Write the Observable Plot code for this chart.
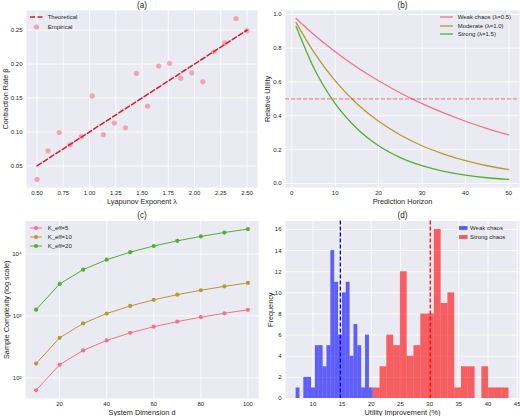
<!DOCTYPE html>
<html><head><meta charset="utf-8">
<script src="https://cdn.jsdelivr.net/npm/d3@7"></script>
<script src="https://cdn.jsdelivr.net/npm/@observablehq/plot@0.6"></script>
<style>
body{margin:0;background:#fff;}
#fig{position:relative;width:520px;height:416px;font-family:"Liberation Sans",Arial,sans-serif;color:#262626;overflow:hidden;}
.panel{position:absolute;}
.lg-row{position:absolute;display:flex;align-items:center;font-size:6px;white-space:nowrap;color:#262626;}
.lg-row svg{display:block;}
</style></head><body><div id="fig"></div>
<script>
// ---------- (a) data ----------
const lambdaVals = [0.50, 0.605, 0.711, 0.816, 0.921, 1.026, 1.132, 1.237, 1.342, 1.447, 1.553, 1.658, 1.763, 1.868, 1.974, 2.079, 2.184, 2.289, 2.395, 2.50];
const betaVals   = [0.030, 0.072, 0.099, 0.081, 0.093, 0.153, 0.096, 0.113, 0.106, 0.186, 0.138, 0.197, 0.201, 0.179, 0.187, 0.174, 0.218, 0.231, 0.267, 0.249];
const theoLambda = [0.5, 2.5];
const theoBeta   = [0.05, 0.25];
// ---------- (b) data ----------
const horizon    = [1, 5, 10, 15, 20, 25, 30, 35, 40, 45, 50];
const weakUtil   = [0.975, 0.882, 0.779, 0.687, 0.607, 0.535, 0.472, 0.417, 0.368, 0.325, 0.287];
const modUtil    = [0.951, 0.779, 0.607, 0.472, 0.368, 0.287, 0.223, 0.174, 0.135, 0.105, 0.082];
const strongUtil = [0.928, 0.687, 0.472, 0.325, 0.223, 0.153, 0.105, 0.072, 0.050, 0.034, 0.024];
const utilThreshold = 0.5;
// ---------- (c) data ----------
const dims   = [10, 20, 30, 40, 50, 60, 70, 80, 90, 100];
const keff5  = [63, 163, 277, 401, 532, 668, 808, 953, 1101, 1252];
const keff10 = [170, 443, 754, 1090, 1445, 1815, 2198, 2590, 2992, 3403];
const keff20 = [1257, 3271, 5571, 8057, 10679, 13413, 16237, 19140, 22112, 25143];
// ---------- (d) data ----------
const weakBinStart = 7.12, weakBinWidth = 0.661;
const weakCounts   = [1, 0, 2, 2, 1, 5, 5, 3, 5, 14, 11, 6, 10, 11, 4, 7, 5, 1, 6, 1];
const strongBinStart = 20.34, strongBinWidth = 1.163;
const strongCounts   = [1, 3, 6, 5, 12, 4, 5, 8, 8, 16, 9, 10, 1, 3, 3, 0, 3, 1, 1, 1];
const weakMean = 14.7, strongMean = 30.1;

const C_PINK = "#f77189", C_GOLD = "#bb9832", C_GREEN = "#50b131";
const BG = "#EAEAF2", TXT = "#262626";
const FONT = '"Liberation Sans", Arial, sans-serif';
const fig = document.getElementById("fig");

function place(svg, left, top) {
  const d = document.createElement("div");
  d.className = "panel"; d.style.left = left + "px"; d.style.top = top + "px";
  d.appendChild(svg); fig.appendChild(d);
}
function baseStyle() {
  return {fontFamily: FONT, fontSize: "6px", color: TXT, background: "transparent", overflow: "visible"};
}
function deco(title, xlabel, ylabel, o) {
  return [
    Plot.text([title], {frameAnchor: "top", dy: o.tdy, lineAnchor: "middle", fontSize: 8.2, fill: TXT}),
    Plot.text([xlabel], {frameAnchor: "bottom", dy: o.xdy, lineAnchor: "middle", fontSize: 7.3, fill: TXT}),
    Plot.text([ylabel], {frameAnchor: "left", dx: o.ydx, rotate: -90, lineAnchor: "middle", textAnchor: "middle", fontSize: 7.3, fill: TXT})
  ];
}
function legend(left, cy0, rowH, textLeft, items) {
  items.forEach((it, i) => {
    const row = document.createElement("div");
    row.className = "lg-row";
    row.style.left = left + "px";
    row.style.top = (cy0 + i * rowH - 4) + "px";
    row.style.height = "8px";
    const w = textLeft - left;
    let sw = "";
    const sww = it.sw || 13;
    if (it.kind === "line") sw = `<line x1="0" x2="${sww}" y1="4" y2="4" stroke="${it.color}" stroke-width="${it.width||1.3}" ${it.dash?`stroke-dasharray="${it.dash}"`:""}/>`;
    if (it.kind === "dot") sw = `<circle cx="${sww/2}" cy="4" r="2.6" fill="${it.color}" fill-opacity="0.6"/>`;
    if (it.kind === "linedot") sw = `<line x1="0" x2="${sww}" y1="4" y2="4" stroke="${it.color}" stroke-width="1"/><circle cx="${sww/2}" cy="4" r="2" fill="${it.color}"/>`;
    if (it.kind === "patch") sw = `<rect x="0" y="2" width="${sww}" height="4" fill="${it.color}" fill-opacity="0.6"/>`;
    row.innerHTML = `<svg width="${w}" height="8">${sw}</svg><span>${it.label}</span>`;
    fig.appendChild(row);
  });
}

// ---------- (a) ----------
{
  const emp = lambdaVals.map((l, i) => ({l, b: betaVals[i]}));
  const theo = theoLambda.map((l, i) => ({l, b: theoBeta[i]}));
  const xt = [0.5, 0.75, 1.0, 1.25, 1.5, 1.75, 2.0, 2.25, 2.5];
  const yt = [0.05, 0.10, 0.15, 0.20, 0.25];
  const p = Plot.plot({
    width: 260, height: 208, marginLeft: 26, marginRight: 3, marginTop: 10, marginBottom: 21,
    style: baseStyle(),
    x: {domain: [0.4, 2.6]}, y: {domain: [0.0181, 0.2789]},
    marks: [
      Plot.frame({fill: BG, stroke: "none"}),
      Plot.gridX({ticks: xt, stroke: "white", strokeOpacity: 1, strokeWidth: 0.8}),
      Plot.gridY({ticks: yt, stroke: "white", strokeOpacity: 1, strokeWidth: 0.8}),
      Plot.dot(emp, {x: "l", y: "b", r: 2.7, fill: C_PINK, fillOpacity: 0.6, stroke: "white", strokeOpacity: 0.5, strokeWidth: 0.3}),
      Plot.line(theo, {x: "l", y: "b", stroke: "#d81b2c", strokeWidth: 1.5, strokeDasharray: "5,2.5"}),
      Plot.axisX({ticks: xt, tickFormat: d3.format(".2f"), tickSize: 0, tickPadding: 3, label: null, fill: TXT}),
      Plot.axisY({ticks: yt, tickFormat: d3.format(".2f"), tickSize: 0, tickPadding: 4, label: null, fill: TXT}),
      ...deco("(a)", "Lyapunov Exponent λ", "Contraction Rate β", {tdy: -5, xdy: 14, ydx: -21})
    ]
  });
  place(p, 0, 0);
  legend(30, 17.3, 9.2, 47.7, [
    {kind: "line", color: "#d81b2c", dash: "5,2.5", width: 1.5, label: "Theoretical"},
    {kind: "dot", color: C_PINK, label: "Empirical"}
  ]);
}

// ---------- (b) ----------
{
  const mk = arr => horizon.map((h, i) => ({h, u: arr[i]}));
  const xt = [0, 10, 20, 30, 40, 50];
  const yt = [0, 0.2, 0.4, 0.6, 0.8, 1.0];
  const p = Plot.plot({
    width: 260, height: 208, marginLeft: 25, marginRight: 1, marginTop: 10, marginBottom: 21,
    style: baseStyle(),
    x: {domain: [-1.45, 52.45]}, y: {domain: [-0.0236, 1.0226]},
    marks: [
      Plot.frame({fill: BG, stroke: "none"}),
      Plot.gridX({ticks: xt, stroke: "white", strokeOpacity: 1, strokeWidth: 0.8}),
      Plot.gridY({ticks: yt, stroke: "white", strokeOpacity: 1, strokeWidth: 0.8}),
      Plot.line(mk(weakUtil), {x: "h", y: "u", stroke: C_PINK, strokeWidth: 1.3, curve: "monotone-x"}),
      Plot.line(mk(modUtil), {x: "h", y: "u", stroke: C_GOLD, strokeWidth: 1.3, curve: "monotone-x"}),
      Plot.line(mk(strongUtil), {x: "h", y: "u", stroke: C_GREEN, strokeWidth: 1.3, curve: "monotone-x"}),
      Plot.ruleY([utilThreshold], {stroke: "red", strokeOpacity: 0.5, strokeWidth: 1, strokeDasharray: "4,2"}),
      Plot.axisX({ticks: xt, tickSize: 0, tickPadding: 3, label: null, fill: TXT}),
      Plot.axisY({ticks: yt, tickFormat: d3.format(".1f"), tickSize: 0, tickPadding: 4, label: null, fill: TXT}),
      ...deco("(b)", "Prediction Horizon", "Relative Utility", {tdy: -5, xdy: 14, ydx: -17.7})
    ]
  });
  place(p, 260, 0);
  legend(440, 17.3, 8.5, 457.7, [
    {kind: "line", color: C_PINK, label: "Weak chaos (λ=0.5)"},
    {kind: "line", color: C_GOLD, label: "Moderate (λ=1.0)"},
    {kind: "line", color: C_GREEN, label: "Strong (λ=1.5)"}
  ]);
}

// ---------- (c) ----------
{
  const mk = arr => dims.map((d, i) => ({d, n: arr[i]}));
  const xt = [20, 40, 60, 80, 100];
  const yt = [100, 1000, 10000];
  const sup = {2: "²", 3: "³", 4: "⁴"};
  const series = [[keff5, C_PINK], [keff10, C_GOLD], [keff20, C_GREEN]];
  const p = Plot.plot({
    width: 260, height: 208, marginLeft: 25, marginRight: 2, marginTop: 12.5, marginBottom: 18,
    style: baseStyle(),
    x: {domain: [5.5, 104.5]}, y: {type: "log", domain: [46.4, 33950]},
    marks: [
      Plot.frame({fill: BG, stroke: "none"}),
      Plot.gridX({ticks: xt, stroke: "white", strokeOpacity: 1, strokeWidth: 0.8}),
      Plot.gridY({ticks: yt, stroke: "white", strokeOpacity: 1, strokeWidth: 0.8}),
      ...series.flatMap(([arr, c]) => [
        Plot.line(mk(arr), {x: "d", y: "n", stroke: c, strokeWidth: 1}),
        Plot.dot(mk(arr), {x: "d", y: "n", r: 2.1, fill: c, stroke: "none"})
      ]),
      Plot.axisX({ticks: xt, tickSize: 0, tickPadding: 3, label: null, fill: TXT}),
      Plot.axisY({ticks: yt, tickFormat: v => "10" + sup[Math.round(Math.log10(v))], tickSize: 0, tickPadding: 4, label: null, fill: TXT}),
      ...deco("(c)", "System Dimension d", "Sample Complexity (log scale)", {tdy: -6, xdy: 14, ydx: -19.3})
    ]
  });
  place(p, 0, 208);
  legend(30, 228.3, 8.7, 47.7, [
    {kind: "linedot", color: C_PINK, sw: 12, label: "K_eff=5"},
    {kind: "linedot", color: C_GOLD, sw: 12, label: "K_eff=10"},
    {kind: "linedot", color: C_GREEN, sw: 12, label: "K_eff=20"}
  ]);
}

// ---------- (d) ----------
{
  const bins = (start, w, counts, g) => counts.map((c, i) => ({x1: start + i * w, x2: start + (i + 1) * w, c, g}));
  const weakBins = bins(weakBinStart, weakBinWidth, weakCounts, "weak");
  const strongBins = bins(strongBinStart, strongBinWidth, strongCounts, "strong");
  const xt = [10, 15, 20, 25, 30, 35, 40, 45];
  const yt = [0, 2, 4, 6, 8, 10, 12, 14, 16];
  const p = Plot.plot({
    width: 260, height: 208, marginLeft: 25, marginRight: 1, marginTop: 12.5, marginBottom: 18,
    style: baseStyle(),
    x: {domain: [5.3, 45.4]}, y: {domain: [0, 16.8]},
    marks: [
      Plot.frame({fill: BG, stroke: "none"}),
      Plot.gridX({ticks: xt, stroke: "white", strokeOpacity: 1, strokeWidth: 0.8}),
      Plot.gridY({ticks: yt, stroke: "white", strokeOpacity: 1, strokeWidth: 0.8}),
      Plot.rectY(weakBins, {x1: "x1", x2: "x2", y: "c", fill: "blue", fillOpacity: 0.6, inset: 0}),
      Plot.rectY(strongBins, {x1: "x1", x2: "x2", y: "c", fill: "red", fillOpacity: 0.6, inset: 0}),
      Plot.ruleX([weakMean], {stroke: "blue", strokeWidth: 1.3, strokeDasharray: "4,2"}),
      Plot.ruleX([strongMean], {stroke: "red", strokeWidth: 1.3, strokeDasharray: "4,2"}),
      Plot.axisX({ticks: xt, tickSize: 0, tickPadding: 3, label: null, fill: TXT}),
      Plot.axisY({ticks: yt, tickSize: 0, tickPadding: 4, label: null, fill: TXT}),
      ...deco("(d)", "Utility Improvement (%)", "Frequency", {tdy: -6, xdy: 14, ydx: -15})
    ]
  });
  place(p, 260, 208);
  legend(459, 228.3, 9, 470, [
    {kind: "patch", color: "blue", sw: 8.5, label: "Weak chaos"},
    {kind: "patch", color: "red", sw: 8.5, label: "Strong chaos"}
  ]);
}
</script>
</body></html>
